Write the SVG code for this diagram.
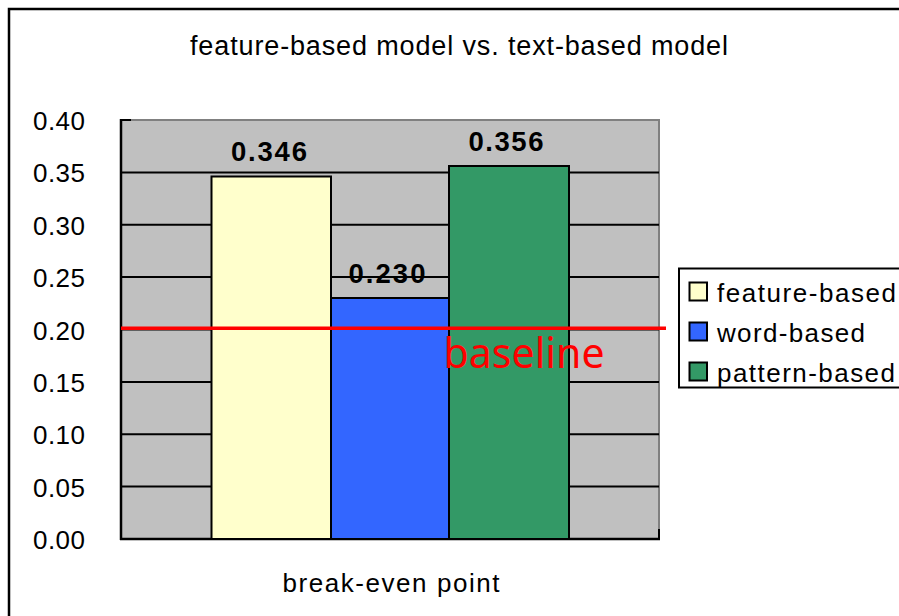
<svg xmlns="http://www.w3.org/2000/svg" width="899" height="616" viewBox="0 0 899 616">
<style>
.t{font-family:"Liberation Sans",Arial,sans-serif;fill:#000}
.ax{font-size:26px;text-anchor:end}
.val{font-size:27.5px;font-weight:bold;text-anchor:middle}
.lg{font-size:26px}
.grid{stroke:#000;stroke-width:2}
.bar{stroke:#000;stroke-width:2}
</style>
<rect x="0" y="0" width="899" height="616" fill="#fff"/>
<rect x="9" y="9" width="1000" height="1000" fill="none" stroke="#000" stroke-width="2.5"/>
<text class="t" x="459" y="54.5" font-size="27" text-anchor="middle" textLength="538" lengthAdjust="spacing">feature-based model vs. text-based model</text>
<g id="plot-area">
<rect x="121" y="120" width="538" height="419" fill="#c0c0c0" stroke="#808080" stroke-width="2"/>
<g class="grid">
<line x1="121" y1="172.4" x2="659" y2="172.4"/>
<line x1="121" y1="224.75" x2="659" y2="224.75"/>
<line x1="121" y1="277.1" x2="659" y2="277.1"/>
<line x1="121" y1="329.5" x2="659" y2="329.5"/>
<line x1="121" y1="381.9" x2="659" y2="381.9"/>
<line x1="121" y1="434.25" x2="659" y2="434.25"/>
<line x1="121" y1="486.6" x2="659" y2="486.6"/>
</g>
<line x1="121" y1="119" x2="121" y2="540" stroke="#000" stroke-width="2.5"/>
<line x1="120" y1="120" x2="131" y2="120" stroke="#000" stroke-width="2"/>
<line x1="120" y1="539" x2="660" y2="539" stroke="#000" stroke-width="2.5"/>
<line x1="659" y1="529" x2="659" y2="539" stroke="#000" stroke-width="2"/>
</g>
<g id="y-axis-labels" class="t ax">
<text x="85" y="130" textLength="52" lengthAdjust="spacing">0.40</text>
<text x="85" y="182.4" textLength="52" lengthAdjust="spacing">0.35</text>
<text x="85" y="234.75" textLength="52" lengthAdjust="spacing">0.30</text>
<text x="85" y="287.1" textLength="52" lengthAdjust="spacing">0.25</text>
<text x="85" y="339.5" textLength="52" lengthAdjust="spacing">0.20</text>
<text x="85" y="391.9" textLength="52" lengthAdjust="spacing">0.15</text>
<text x="85" y="444.25" textLength="52" lengthAdjust="spacing">0.10</text>
<text x="85" y="496.6" textLength="52" lengthAdjust="spacing">0.05</text>
<text x="85" y="549" textLength="52" lengthAdjust="spacing">0.00</text>
</g>
<g id="bar-feature-based">
<rect class="bar" x="211.5" y="176.5" width="119.5" height="362.5" fill="#ffffcc"/>
<text class="t val" x="269" y="160.5" textLength="76" lengthAdjust="spacing">0.346</text>
</g>
<g id="bar-word-based">
<rect class="bar" x="331" y="298" width="118" height="241" fill="#3366ff"/>
<text class="t val" x="387" y="283" textLength="77" lengthAdjust="spacing">0.230</text>
</g>
<g id="bar-pattern-based">
<rect class="bar" x="449" y="166" width="120" height="373" fill="#339966"/>
<text class="t val" x="506" y="151" textLength="75" lengthAdjust="spacing">0.356</text>
</g>
<g id="baseline">
<line x1="121" y1="328.3" x2="666" y2="328.3" stroke="#ff0000" stroke-width="3.5"/>
<text x="443.5" y="368.3" font-family="'Noto Sans','Open Sans',sans-serif" font-size="41" fill="#ff0000" textLength="161" lengthAdjust="spacing">baseline</text>
</g>
<text class="t" x="391" y="591.5" font-size="26" text-anchor="middle" textLength="217" lengthAdjust="spacing">break-even point</text>
<g id="legend">
<rect x="679" y="268.5" width="300" height="119" fill="#fff" stroke="#000" stroke-width="2"/>
<rect x="689.5" y="282.5" width="17.5" height="18" fill="#ffffcc" stroke="#000" stroke-width="2"/>
<rect x="689.5" y="322.5" width="17.5" height="18" fill="#3366ff" stroke="#000" stroke-width="2"/>
<rect x="689.5" y="362.5" width="17.5" height="18" fill="#339966" stroke="#000" stroke-width="2"/>
<text class="t lg" x="717" y="302.3" textLength="179" lengthAdjust="spacing">feature-based</text>
<text class="t lg" x="717" y="342.3" textLength="148" lengthAdjust="spacing">word-based</text>
<text class="t lg" x="717" y="382.3" textLength="178" lengthAdjust="spacing">pattern-based</text>
</g>
</svg>
